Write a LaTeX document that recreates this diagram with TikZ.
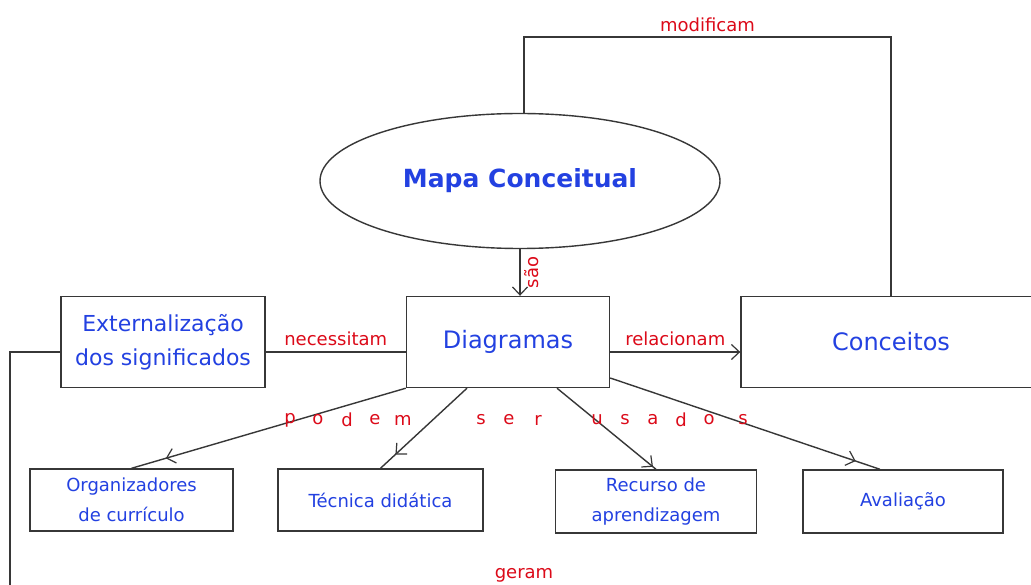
\documentclass[tikz,border=0pt]{standalone}
\usepackage{fontspec}
\setmainfont{DejaVu Sans}
\usetikzlibrary{arrows.meta,decorations.markings,shapes.geometric}
\definecolor{cblue}{RGB}{35,65,225}
\definecolor{cred}{RGB}{220,10,25}
\definecolor{cline}{RGB}{55,55,55}
\tikzset{
  conc/.style={draw=cline, line width=1.4pt, fill=white, inner sep=0pt, text=cblue, align=center},
  bigbox/.style={conc, minimum width=203pt, minimum height=91pt, font=\fontsize{22}{34}\selectfont},
  smallbox/.style={conc, minimum width=204pt, minimum height=62pt, font=\fontsize{18}{30}\selectfont},
  lnk/.style={draw=cline, line width=1.4pt},
  tip/.style={Straight Barb[length=8pt,width=15pt,line width=1.2pt]},
  arr/.style={lnk, -{Straight Barb[length=8pt,width=15pt,line width=1.2pt]}},
  midarr/.style={lnk, postaction={decorate}, decoration={markings, mark=at position #1 with {\arrow{Straight Barb[length=8pt,width=15pt,line width=1.2pt]}}}},
  lbl/.style={text=cred, inner sep=0pt, font=\fontsize{18}{22}\selectfont},
}
\begin{document}
\begin{tikzpicture}[x=1pt,y=-1pt]
\useasboundingbox (0,0) rectangle (1031,585);
\clip (0,0) rectangle (1031,585);
\fill[white] (0,0) rectangle (1031,585);

% nodes
\node[conc, ellipse, minimum width=400pt, minimum height=135pt, font=\bfseries\fontsize{25}{30}\selectfont] (map) at (520,181) {Mapa Conceitual};
\node[bigbox] (diag) at (508,342) {\fontsize{24}{30}\selectfont Diagramas};
\node[bigbox, minimum width=204pt] (ext) at (163,342) {Externalização\\dos significados};
\node[bigbox, minimum width=300pt] (conc) at (891,342) {\fontsize{24}{30}\selectfont Conceitos};
\node[smallbox, minimum width=203pt] (org) at (131.5,500) {Organizadores\\de currículo};
\node[smallbox, minimum width=205pt] (tec) at (380.5,500) {Técnica didática};
\node[smallbox, minimum width=201pt, minimum height=63pt] (rec) at (656,501.5) {Recurso de\\aprendizagem};
\node[smallbox, minimum width=200pt, minimum height=63pt] (ava) at (903,501.5) {Avaliação};

% connectors
\draw[arr] (map.south) -- (map.south |- diag.north)
  node[lbl, midway, right=4pt, rotate=90, anchor=north] {são};
\coordinate (mtop) at (524,37);
\draw[lnk] (map.north -| mtop) -- (mtop) -| (conc.north)
  node[lbl, pos=0.25, above=5pt] {modificam};
\draw[lnk] (ext.east |- 0,352) -- (diag.west |- 0,352)
  node[lbl, midway, above=6pt] {necessitam};
\draw[arr] (diag.east |- 0,352) -- (conc.west |- 0,352)
  node[lbl, midway, above=6pt] {relacionam};
\coordinate (gend) at (10,600);
\draw[lnk] (ext.west |- 0,352) -| (gend);

\draw[midarr=0.875] (diag.south west) -- (org.north);
\draw[midarr=0.83] (diag.south -| 467,0) -- (tec.north);
\draw[midarr=0.97] (diag.south -| 557,0) -- (rec.north);
\draw[midarr=0.91] (diag.east |- 0,378) -- ([xshift=-23pt]ava.north);

% spaced label
\foreach \ch/\x in {p/290,o/318,d/347,e/375,m/403,s/481,e/509,r/538,u/597,s/625,a/653,d/681,o/709,s/743}
  \node[lbl] at (\x,420) {\ch};

\node[lbl] (geram) at (524,575) {geram};
\end{tikzpicture}
\end{document}
